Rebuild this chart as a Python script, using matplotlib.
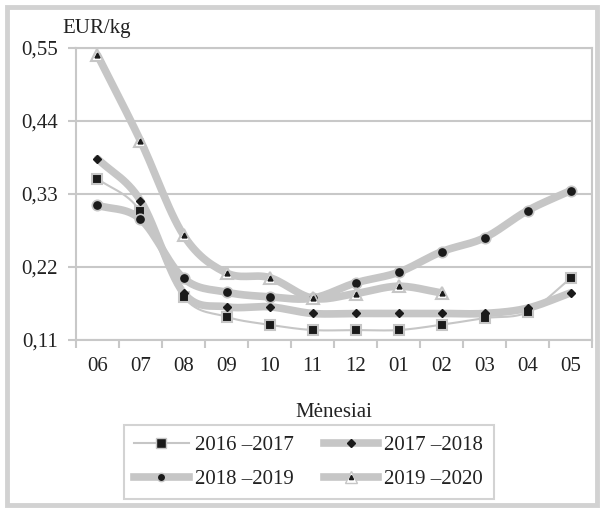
import numpy as np
import matplotlib
matplotlib.use('Agg')
import matplotlib.pyplot as plt
from matplotlib.lines import Line2D
from matplotlib.patches import Rectangle

plt.rcParams['font.family'] = ['Liberation Serif', 'DejaVu Serif']

# data
months = ['06', '07', '08', '09', '10', '11', '12', '01', '02', '03', '04', '05']
s_2016 = [0.353, 0.304, 0.175, 0.145, 0.133, 0.125, 0.125, 0.125, 0.133, 0.143, 0.152, 0.203]
s_2017 = [0.383, 0.320, 0.181, 0.160, 0.160, 0.150, 0.150, 0.150, 0.150, 0.150, 0.158, 0.181]
s_2018 = [0.313, 0.292, 0.203, 0.182, 0.175, 0.173, 0.196, 0.212, 0.243, 0.264, 0.305, 0.335]
s_2019 = [0.539, 0.410, 0.268, 0.211, 0.204, 0.173, 0.180, 0.191, 0.181]
labels = ['2016 –2017', '2017 –2018', '2018 –2019', '2019 –2020']
yticks = [0.11, 0.22, 0.33, 0.44, 0.55]

GRID = '#c8c8c8'
LINE = '#c6c6c6'
TXT = '#222222'
FS = 15


def smooth(y, n=16):
    # catmull-rom style curve through the points, like Excel's smoothed line
    y = np.asarray(y, float)
    x = np.arange(len(y), dtype=float)
    px = np.concatenate([[2 * x[0] - x[1]], x, [2 * x[-1] - x[-2]]])
    py = np.concatenate([[2 * y[0] - y[1]], y, [2 * y[-1] - y[-2]]])
    xs, ys = [], []
    t = np.linspace(0, 1, n)
    for i in range(1, len(px) - 2):
        for p, out in ((px, xs), (py, ys)):
            p0, p1, p2, p3 = p[i - 1], p[i], p[i + 1], p[i + 2]
            out.append(0.5 * ((2 * p1) + (-p0 + p2) * t
                              + (2 * p0 - 5 * p1 + 4 * p2 - p3) * t ** 2
                              + (-p0 + 3 * p1 - 3 * p2 + p3) * t ** 3))
    return np.concatenate(xs), np.concatenate(ys)


fig = plt.figure(figsize=(6.03, 5.09), dpi=100)
fig.patches.append(Rectangle((0.012, 0.008), 0.978, 0.978, transform=fig.transFigure,
                             fill=False, edgecolor='#d2d2d2', linewidth=3.5))
ax = fig.add_axes([0.126, 0.332, 0.856, 0.574])

for yv in yticks:
    ax.axhline(yv, color=GRID, linewidth=1.5, zorder=0)

# 2016-2017 thin line
x, y = smooth(s_2016)
ax.plot(x, y, color=LINE, linewidth=1.5, zorder=2)
ax.plot(range(len(s_2016)), s_2016, linestyle='none', marker='s', markersize=7,
        markerfacecolor='#1a1a1a', markeredgecolor=LINE, markeredgewidth=1.5, zorder=5)

# 2017-2018
x, y = smooth(s_2017)
ax.plot(x, y, color=LINE, linewidth=5.5, solid_capstyle='round', zorder=2)
ax.plot(range(len(s_2017)), s_2017, linestyle='none', marker='D', markersize=4,
        markerfacecolor='#1a1a1a', markeredgecolor='#1a1a1a', zorder=5)

# 2018-2019
x, y = smooth(s_2018)
ax.plot(x, y, color=LINE, linewidth=5.5, solid_capstyle='round', zorder=2)
ax.plot(range(len(s_2018)), s_2018, linestyle='none', marker='o', markersize=7.5,
        markerfacecolor='#1a1a1a', markeredgecolor=LINE, markeredgewidth=1.2, zorder=5)

# 2019-2020
x, y = smooth(s_2019)
ax.plot(x, y, color=LINE, linewidth=5.5, solid_capstyle='round', zorder=2)
ax.plot(range(len(s_2019)), s_2019, linestyle='none', marker='^', markersize=9,
        markerfacecolor='white', markeredgecolor=LINE, markeredgewidth=1.5, zorder=5)
ax.plot(range(len(s_2019)), s_2019, linestyle='none', marker='^', markersize=3.5,
        markerfacecolor='#1a1a1a', markeredgecolor='#1a1a1a', zorder=6)

ax.set_xlim(-0.5, len(months) - 0.5)
ax.set_ylim(0.11, 0.55)
ax.set_yticks(yticks)
ax.set_yticklabels([f'{v:.2f}'.replace('.', ',') for v in yticks], fontsize=FS)
ax.set_xticks(np.arange(len(months)))
ax.set_xticklabels(months, fontsize=FS)
ax.set_xticks(np.arange(len(months) + 1) - 0.5, minor=True)
ax.tick_params(axis='x', which='major', length=0, pad=12)
ax.tick_params(axis='x', which='minor', length=6, width=1.5, color=GRID, direction='out')
ax.tick_params(axis='y', length=6, width=1.5, color=GRID, pad=7, labelcolor=TXT)
ax.tick_params(axis='x', labelcolor=TXT)
for sp in ax.spines.values():
    sp.set_color(GRID)
    sp.set_linewidth(1.5)

ax.set_xlabel('Mėnesiai', fontsize=FS, color=TXT, labelpad=20)
ax.text(-0.027, 1.035, 'EUR/kg', transform=ax.transAxes, fontsize=FS, color=TXT,
        ha='left', va='bottom')

h1 = Line2D([], [], color=LINE, linewidth=1.5, marker='s', markersize=7,
            markerfacecolor='#1a1a1a', markeredgecolor=LINE)
h2 = Line2D([], [], color=LINE, linewidth=5.5, marker='D', markersize=4,
            markerfacecolor='#1a1a1a', markeredgecolor='#1a1a1a')
h3 = Line2D([], [], color=LINE, linewidth=5.5, marker='o', markersize=6,
            markerfacecolor='#1a1a1a', markeredgecolor=LINE)
h4a = Line2D([], [], color=LINE, linewidth=5.5, marker='^', markersize=8,
             markerfacecolor='white', markeredgecolor=LINE)
h4b = Line2D([], [], linestyle='none', marker='^', markersize=3, color='#1a1a1a')
# legend fills column by column, so order handles to read row by row
handles = [h1, h3, h2, (h4a, h4b)]
leg_labels = [labels[0], labels[2], labels[1], labels[3]]
leg = fig.legend(handles, leg_labels, ncol=2, loc='center',
                 bbox_to_anchor=(0.512, 0.092), fontsize=FS, handlelength=2.6,
                 columnspacing=1.45, handletextpad=0.3, fancybox=False,
                 borderpad=0.5, labelspacing=0.7, frameon=True)
leg.get_frame().set_edgecolor(GRID)
leg.get_frame().set_linewidth(1.5)
for t in leg.get_texts():
    t.set_color(TXT)

fig.savefig('out.png', dpi=100)
